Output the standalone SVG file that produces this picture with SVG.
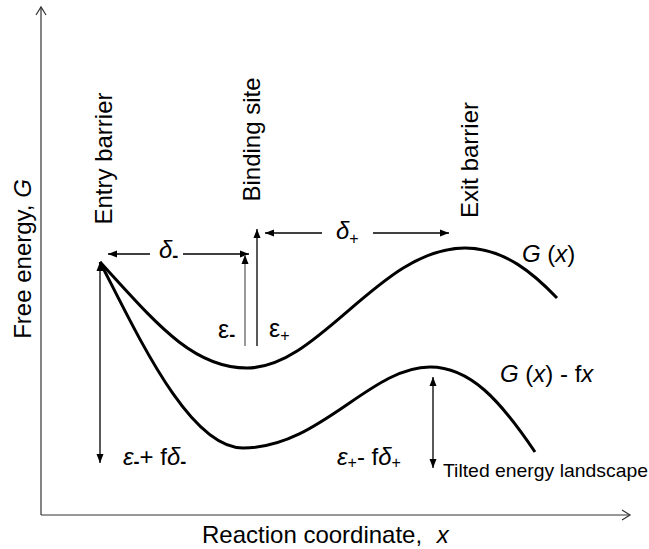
<svg xmlns="http://www.w3.org/2000/svg" width="649" height="549" viewBox="0 0 649 549">
<style>
text{font-family:"Liberation Sans",Arial,sans-serif;fill:#000}
.lbl{font-size:24px}
.eps{font-size:25px}
.it{font-style:italic}
.sub{font-size:16px}
.dash{font-size:18px;font-weight:bold}
.axis{stroke:#333;stroke-width:1.2;fill:none}
.curve{stroke:#000;stroke-width:3;fill:none}
.arr{stroke:#000;stroke-width:1.3;fill:none}
</style>
<defs>
<marker id="open" markerWidth="12" markerHeight="12" refX="10" refY="6" orient="auto" markerUnits="userSpaceOnUse">
<path d="M2,1 L10,6 L2,11" fill="none" stroke="#333" stroke-width="1.2"/>
</marker>
<marker id="tri" markerWidth="10" markerHeight="10" refX="9" refY="5" orient="auto" markerUnits="userSpaceOnUse">
<path d="M0,1.5 L9,5 L0,8.5 Z" fill="#000"/>
</marker>
</defs>
<g id="axes">
<path class="axis" d="M41,515 L41,7" marker-end="url(#open)"/>
<path class="axis" d="M41,515 L630,515" marker-end="url(#open)"/>
<text class="lbl" transform="translate(31,259) rotate(-90)" text-anchor="middle">Free energy,  <tspan class="it">G</tspan></text>
<text class="lbl" x="202" y="543">Reaction coordinate, <tspan class="it" dx="8">x</tspan></text>
</g>
<g id="entry-barrier">
<text class="lbl" transform="translate(112,158.5) rotate(-90)" text-anchor="middle">Entry barrier</text>
</g>
<g id="binding-site">
<text class="lbl" transform="translate(260,139.5) rotate(-90)" text-anchor="middle">Binding site</text>
</g>
<g id="exit-barrier">
<text class="lbl" transform="translate(478,160) rotate(-90)" text-anchor="middle">Exit barrier</text>
</g>
<g id="curve-G">
<path class="curve" d="M100,262 C155,322 192,368 247,368 C320,368 380,248 465,248 C505,248 535,275 557,298"/>
<text class="lbl" x="522" y="262"><tspan class="it">G</tspan> (<tspan class="it">x</tspan>)</text>
</g>
<g id="curve-Gfx">
<path class="curve" d="M100,262 C140,340 190,448 243,448 C320,448 370,367 430,367 C470,367 500,400 535,452"/>
<text class="lbl" x="500" y="382"><tspan class="it">G</tspan> (<tspan class="it">x</tspan>) - f<tspan class="it">x</tspan></text>
</g>
<g id="connectors">
<path class="arr" d="M150,254 L108,254" marker-end="url(#tri)"/>
<path class="arr" d="M183,254 L249,254" marker-end="url(#tri)"/>
<path class="arr" d="M322,233 L265,233" marker-end="url(#tri)"/>
<path class="arr" d="M373,233 L449,233" marker-end="url(#tri)"/>
<path d="M245,346 L245,255" stroke="#808080" stroke-width="1.6" fill="none" marker-end="url(#tri)"/>
<path class="arr" d="M257,346 L257,229" marker-end="url(#tri)"/>
<path class="arr" d="M100,360 L100,262" marker-end="url(#tri)"/>
<path class="arr" d="M100,360 L100,463" marker-end="url(#tri)"/>
<path class="arr" d="M433,420 L433,377" marker-end="url(#tri)"/>
<path class="arr" d="M433,420 L433,468" marker-end="url(#tri)"/>
</g>
<g id="labels">
<text class="lbl" x="159" y="258"><tspan class="it">δ</tspan><tspan class="dash" dy="4">-</tspan></text>
<text class="lbl" x="336" y="239"><tspan class="it">δ</tspan><tspan class="sub" dy="5">+</tspan></text>
<text class="eps" x="218" y="338">ε<tspan class="dash" dy="3">-</tspan></text>
<text class="eps" x="269" y="337">ε<tspan class="sub" dy="4">+</tspan></text>
<text class="lbl" x="123" y="465"><tspan class="it">ε</tspan><tspan class="dash" dy="3">-</tspan><tspan dy="-3">+ f</tspan><tspan class="it">δ</tspan><tspan class="dash" dy="3">-</tspan></text>
<text class="lbl" x="337" y="465"><tspan class="it">ε</tspan><tspan class="sub" dy="3">+</tspan><tspan dy="-3">- f</tspan><tspan class="it">δ</tspan><tspan class="sub" dy="3">+</tspan></text>
<text x="443" y="477" style="font-size:19px" textLength="205" lengthAdjust="spacingAndGlyphs">Tilted energy landscape</text>
</g>
</svg>
